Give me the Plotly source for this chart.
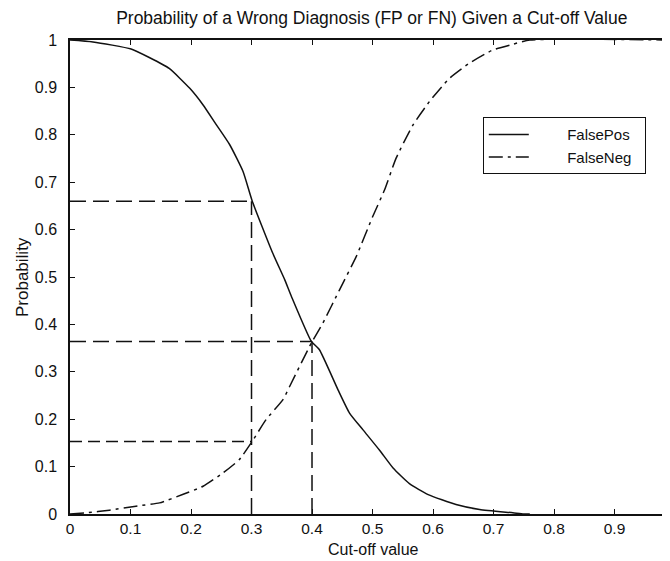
import plotly.graph_objects as go

# ---- data ----
fp_x = [0, 0.038, 0.101, 0.131, 0.164, 0.198, 0.22, 0.242, 0.264, 0.286, 0.301,
        0.335, 0.355, 0.366, 0.399, 0.412, 0.443, 0.462, 0.484, 0.512, 0.534,
        0.561, 0.592, 0.638, 0.677, 0.732, 0.75, 0.76]
fp_y = [1.0, 0.996, 0.981, 0.963, 0.940, 0.898, 0.863, 0.821, 0.779, 0.7225, 0.661,
        0.5505, 0.494, 0.459, 0.364, 0.347, 0.262, 0.213, 0.178, 0.134, 0.097,
        0.064, 0.041, 0.020, 0.0095, 0.0025, 0.0, 0.0]

fn_x = [0, 0.027, 0.065, 0.109, 0.148, 0.186, 0.22, 0.253, 0.28, 0.301, 0.324,
        0.352, 0.363, 0.399, 0.418, 0.4455, 0.473, 0.5005, 0.52, 0.539, 0.567,
        0.594, 0.627, 0.66, 0.699, 0.732, 0.76, 0.99]
fn_y = [0, 0.0025, 0.008, 0.0165, 0.0235, 0.041, 0.0586, 0.0868, 0.115, 0.153, 0.199,
        0.2413, 0.269, 0.361, 0.403, 0.473, 0.543, 0.628, 0.684, 0.7507, 0.821,
        0.870, 0.919, 0.951, 0.979, 0.991, 1.0, 1.0]

ref_cutoffs = [0.3, 0.4]
ref_fp = [0.66, 0.364]
ref_fn = [0.153, 0.364]

x_ticks = [0, 0.1, 0.2, 0.3, 0.4, 0.5, 0.6, 0.7, 0.8, 0.9]
x_ticklabels = ["0", "0.1", "0.2", "0.3", "0.4", "0.5", "0.6", "0.7", "0.8", "0.9"]
y_ticks = [0, 0.1, 0.2, 0.3, 0.4, 0.5, 0.6, 0.7, 0.8, 0.9, 1.0]
y_ticklabels = ["0", "0.1", "0.2", "0.3", "0.4", "0.5", "0.6", "0.7", "0.8", "0.9", "1"]

FONT = "Liberation Sans, Arial, Helvetica, sans-serif"
INK = "#111111"
NB = "\u00a0"

fig = go.Figure()

# reference (dashed) guide lines
ref_dash = "16px,7px"
for c, pfp, pfn in zip(ref_cutoffs, ref_fp, ref_fn):
    top = max(pfp, pfn)
    fig.add_trace(go.Scatter(x=[0, c], y=[pfp, pfp], mode="lines",
                             line=dict(color=INK, width=1.5, dash=ref_dash),
                             showlegend=False, hoverinfo="skip"))
    if pfn != pfp:
        fig.add_trace(go.Scatter(x=[0, c], y=[pfn, pfn], mode="lines",
                                 line=dict(color=INK, width=1.5, dash="12px,6px"),
                                 showlegend=False, hoverinfo="skip"))
    fig.add_trace(go.Scatter(x=[c, c], y=[0, top], mode="lines",
                             line=dict(color=INK, width=1.5, dash=ref_dash),
                             showlegend=False, hoverinfo="skip"))

fig.add_trace(go.Scatter(x=fp_x, y=fp_y, mode="lines", name=NB * 8 + "FalsePos" + NB * 2,
                         line=dict(color=INK, width=1.5, shape="spline", smoothing=0.5)))
fig.add_trace(go.Scatter(x=fn_x, y=fn_y, mode="lines", name=NB * 8 + "FalseNeg" + NB * 2,
                         line=dict(color=INK, width=1.5, dash="14px,5px,3px,5px",
                                   shape="spline", smoothing=0.5)))

fig.update_layout(
    width=662, height=553,
    margin=dict(l=62, r=0, t=32, b=47, autoexpand=False),
    paper_bgcolor="white", plot_bgcolor="white",
    font=dict(family=FONT, size=16, color=INK),
    title=dict(text="Probability of a Wrong Diagnosis (FP or FN) Given a Cut-off Value",
               x=0.503, xref="paper", xanchor="center",
               y=1 - 10 / 553, yref="container", yanchor="middle",
               font=dict(size=17.5, family=FONT, color=INK)),
    legend=dict(x=0.688, y=0.777, xanchor="left", yanchor="middle",
                bordercolor=INK, borderwidth=1, bgcolor="white",
                font=dict(size=15, family=FONT, color=INK),
                itemwidth=40, tracegroupgap=0),
    showlegend=True,
    annotations=[
        dict(text="Cut-off value", x=0.505, y=-0.0759, xref="paper", yref="paper",
             xanchor="center", yanchor="middle", showarrow=False,
             font=dict(size=16, family=FONT, color=INK)),
        dict(text="Probability", x=-0.08, y=0.5, xref="paper", yref="paper",
             xanchor="center", yanchor="middle", showarrow=False, textangle=-90,
             font=dict(size=17, family=FONT, color=INK)),
    ],
)

fig.update_xaxes(range=[0, 0.9917], tickmode="array", tickvals=x_ticks, ticktext=x_ticklabels,
                 ticks="inside", ticklen=5, tickcolor=INK, showline=True, linecolor=INK,
                 linewidth=1.5, mirror="ticks", showgrid=False, zeroline=False,
                 ticklabelstandoff=0, automargin=False, tickfont=dict(size=15.5))
fig.update_yaxes(range=[0, 1], tickmode="array", tickvals=y_ticks, ticktext=y_ticklabels,
                 ticks="inside", ticklen=5, tickcolor=INK, showline=True, linecolor=INK,
                 linewidth=1.5, mirror=False, showgrid=False, zeroline=False,
                 ticklabelstandoff=8, automargin=False, tickfont=dict(size=16))

fig.write_html("out.html")
